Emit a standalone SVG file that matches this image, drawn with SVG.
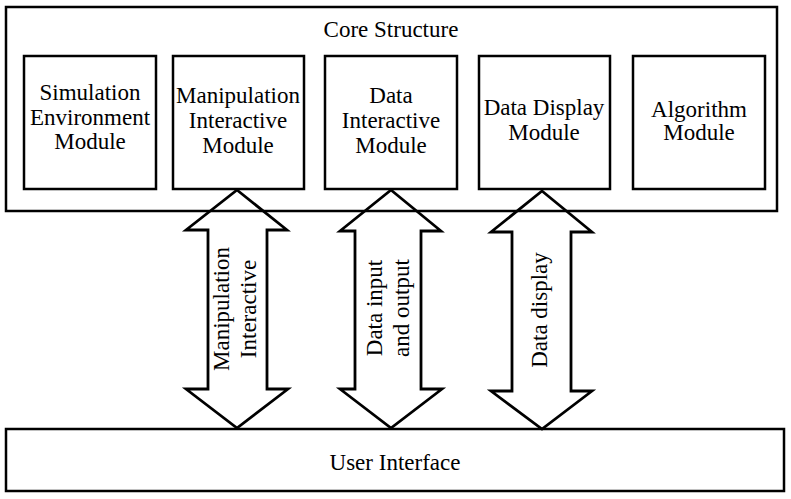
<svg xmlns="http://www.w3.org/2000/svg" width="791" height="499" viewBox="0 0 791 499">
<style>
.box{fill:#fff;stroke:#000;stroke-width:2.5}
.arr{fill:none;stroke:#000;stroke-width:2.8;stroke-linejoin:miter}
text{font-family:"Liberation Serif","Times New Roman",serif;font-size:23px;fill:#000;text-anchor:middle}
</style>
<rect width="791" height="499" fill="#fff"/>
<g id="core">
<rect class="box" x="6" y="7" width="771" height="204"/>
<text x="391" y="37">Core Structure</text>
</g>
<g id="sim">
<rect class="box" x="24" y="56" width="132" height="133"/>
<text x="90" y="100">Simulation</text><text x="90" y="125">Environment</text><text x="90" y="149">Module</text>
</g>
<g id="manip">
<rect class="box" x="173" y="56" width="131" height="133"/>
<text x="238" y="103">Manipulation</text><text x="238" y="128">Interactive</text><text x="238" y="153">Module</text>
</g>
<g id="datainter">
<rect class="box" x="325" y="56" width="132" height="133"/>
<text x="391" y="103">Data</text><text x="391" y="128">Interactive</text><text x="391" y="153">Module</text>
</g>
<g id="datadisp">
<rect class="box" x="479" y="56" width="131" height="133"/>
<text x="544" y="115">Data Display</text><text x="544" y="140">Module</text>
</g>
<g id="algo">
<rect class="box" x="633" y="56" width="132" height="133"/>
<text x="699" y="117">Algorithm</text><text x="699" y="140">Module</text>
</g>
<g id="ui">
<rect class="box" x="6" y="429" width="778" height="62"/>
<text x="395" y="470">User Interface</text>
</g>
<g id="connectors">
<polygon class="arr" points="237,190 287,230 267,230 267,389 288,389 237,428 186,389 208,389 208,230 186,230"/>
<polygon class="arr" points="391,190 441,231 421,231 421,389 442,389 391,428 340,389 355,389 355,231 340,231"/>
<polygon class="arr" points="542,191 592,232 571,232 571,391 592,391 542,429 491,391 512,391 512,232 491,232"/>
<text transform="translate(229,309) rotate(-90)">Manipulation</text>
<text transform="translate(256,309) rotate(-90)">Interactive</text>
<text transform="translate(382,308) rotate(-90)">Data input</text>
<text transform="translate(409,308) rotate(-90)">and output</text>
<text transform="translate(547,310) rotate(-90)">Data display</text>
</g>
</svg>
